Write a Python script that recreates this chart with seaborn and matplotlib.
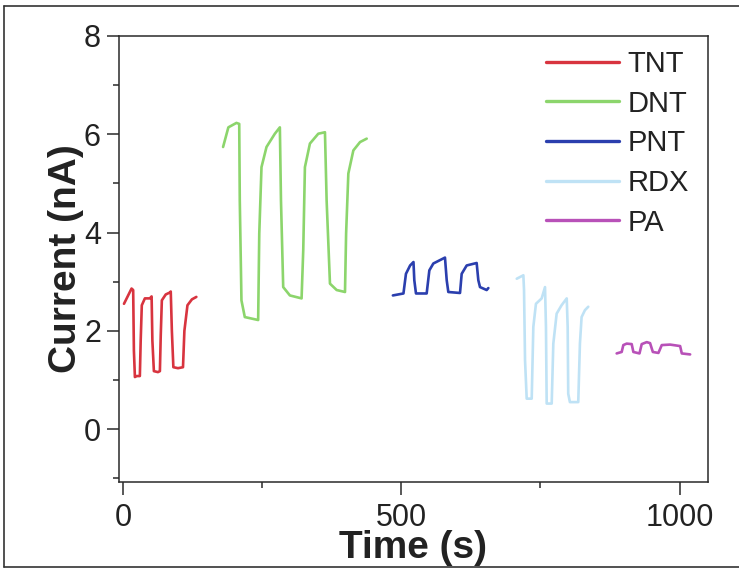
import matplotlib
matplotlib.use("Agg")
import matplotlib.pyplot as plt
from matplotlib.lines import Line2D
from matplotlib.ticker import MultipleLocator
import seaborn as sns
import pandas as pd

# ---- data ----
series_names = ["TNT", "DNT", "PNT", "RDX", "PA"]

tnt_t = [2, 15.6, 18.5, 19.8, 21.6, 25, 30.5, 32, 34, 39.5, 48.5, 51.6, 53, 55.7, 63, 66.5, 68, 70,
         77, 84.5, 86, 88, 90.7, 99, 108, 110.5, 116, 124, 132]
tnt_i = [2.55, 2.86, 2.83, 1.6, 1.06, 1.08, 1.08, 1.8, 2.52, 2.66, 2.66, 2.7, 1.8, 1.18, 1.16, 1.18,
         1.9, 2.62, 2.74, 2.78, 2.8, 2.0, 1.26, 1.24, 1.26, 2.0, 2.52, 2.64, 2.69]

dnt_t = [180, 189.5, 204, 209, 210, 213, 219, 243, 245, 249, 258, 273, 282, 284, 288, 300, 321, 324,
         327, 336, 351, 363, 366, 372, 384, 399, 401, 405, 414, 426, 438]
dnt_i = [5.74, 6.14, 6.23, 6.21, 4.65, 2.62, 2.28, 2.22, 3.98, 5.33, 5.74, 6.01, 6.14, 4.65, 2.89,
         2.72, 2.66, 3.64, 5.33, 5.81, 6.01, 6.04, 4.65, 2.96, 2.83, 2.79, 3.98, 5.2, 5.67, 5.84, 5.91]

pnt_t = [485, 504, 508.5, 516, 522, 523.5, 526.5, 545.7, 550.5, 557.7, 578.6, 581.7, 584.6, 605.6,
         608.6, 617.6, 635.5, 638.5, 641.5, 647.5, 653.5, 656.5]
pnt_i = [2.72, 2.76, 3.16, 3.33, 3.40, 3.03, 2.76, 2.76, 3.23, 3.37, 3.49, 3.03, 2.79, 2.77, 3.16,
         3.33, 3.38, 3.03, 2.89, 2.86, 2.83, 2.87]

rdx_t = [707.5, 719.4, 720.6, 722.4, 725.4, 734.4, 737.3, 742, 752.3, 758.3, 760, 761.3, 770.3,
         773.2, 779.2, 788, 797.3, 799, 800, 803, 818, 821, 824, 830, 836]
rdx_i = [3.06, 3.13, 2.83, 1.40, 0.62, 0.62, 2.08, 2.55, 2.66, 2.89, 2.08, 0.52, 0.52, 1.74, 2.35,
         2.52, 2.66, 2.08, 0.72, 0.55, 0.55, 1.74, 2.28, 2.42, 2.49]

pa_t = [887, 896, 899, 905, 914, 917, 928, 932, 941, 947, 952, 962, 968, 983, 1001, 1004, 1019]
pa_i = [1.54, 1.57, 1.71, 1.74, 1.73, 1.57, 1.54, 1.73, 1.77, 1.75, 1.57, 1.55, 1.71, 1.72, 1.69,
        1.54, 1.52]

colors = ["#d8343f", "#8cd56c", "#2b3fae", "#bfe2f5", "#b851b8"]

x_ticks = [0, 500, 1000]
y_ticks = [0, 2, 4, 6, 8]

sns.set_style("white")
plt.rcParams["font.family"] = ["Liberation Sans", "DejaVu Sans"]

fig = plt.figure(figsize=(7.39, 5.70), dpi=100)
ax = fig.add_axes([0.161, 0.154, 0.797, 0.783])

data = [(tnt_t, tnt_i), (dnt_t, dnt_i), (pnt_t, pnt_i), (rdx_t, rdx_i), (pa_t, pa_i)]
for name, (t, i), c in zip(series_names, data, colors):
    df = pd.DataFrame({"Time": t, "Current": i})
    sns.lineplot(data=df, x="Time", y="Current", ax=ax, color=c, lw=1.9,
                 estimator=None, sort=False, label=name)
for ln in ax.get_lines():
    ln.set_solid_joinstyle("round")
    ln.set_solid_capstyle("round")

ax.set_xlim(-7, 1051)
ax.set_ylim(-1.08, 8)
ax.set_xticks(x_ticks)
ax.set_yticks(y_ticks)
ax.xaxis.set_minor_locator(MultipleLocator(250))
ax.yaxis.set_minor_locator(MultipleLocator(1))

for s in ax.spines.values():
    s.set_color("#2a2a2a")
    s.set_linewidth(1.1)

ax.tick_params(axis="both", which="major", direction="out", length=9, width=1.1,
               color="#2a2a2a", labelsize=22, labelcolor="#222222",
               bottom=True, left=True, top=False, right=False)
ax.tick_params(axis="both", which="minor", direction="out", length=4.5, width=1.1,
               color="#2a2a2a", bottom=True, left=True, top=False, right=False)
ax.tick_params(axis="x", which="major", pad=6)
ax.tick_params(axis="y", which="major", pad=4)

ax.set_xlabel("Time (s)", fontsize=28, fontweight="bold", color="#222222", labelpad=-2)
ax.set_ylabel("Current (nA)", fontsize=28, fontweight="bold", color="#222222", labelpad=0)

leg = ax.legend(loc="upper left", bbox_to_anchor=(546 / 739, 1 - 50 / 570),
                bbox_transform=fig.transFigure, frameon=False, fontsize=21,
                handlelength=2.5, handletextpad=0.3, labelspacing=0.4,
                borderpad=0, borderaxespad=0)
for h in leg.get_lines():
    h.set_linewidth(2.4)
for t in leg.get_texts():
    t.set_color("#222222")

# figure frame as in the scanned original
for xs, ys in [([0.006, 0.006], [0.005, 0.99]), ([0.006, 1.0], [0.99, 0.99]),
               ([0.006, 1.0], [0.005, 0.005])]:
    fig.add_artist(Line2D(xs, ys, transform=fig.transFigure, color="#333333", lw=1.2))

fig.savefig("out.png", dpi=100)
